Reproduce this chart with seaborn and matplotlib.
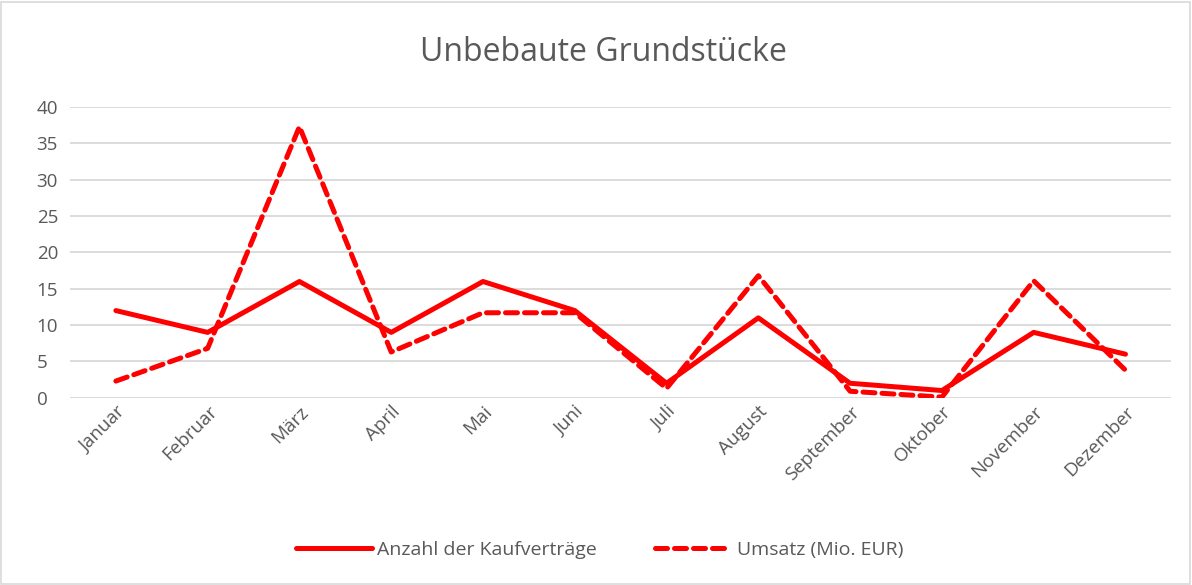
import pandas as pd
import matplotlib.pyplot as plt
import seaborn as sns
from matplotlib.patches import Rectangle
from matplotlib.lines import Line2D

# values
monate = ['Januar', 'Februar', 'März', 'April', 'Mai', 'Juni', 'Juli',
          'August', 'September', 'Oktober', 'November', 'Dezember']
anzahl = [12, 9, 16, 9, 16, 12, 2, 11, 2, 1, 9, 6]
umsatz = [2.3, 6.8, 37.3, 6.3, 11.7, 11.7, 1.3, 16.8, 0.9, 0.1, 16.1, 3.8]
serien = ['Anzahl der Kaufverträge', 'Umsatz (Mio. EUR)']

df = pd.DataFrame({'Monat': monate, serien[0]: anzahl, serien[1]: umsatz})
long_df = df.melt(id_vars='Monat', var_name='Serie', value_name='Wert')

sns.set_style('white')
plt.rcParams['font.family'] = ['Open Sans', 'DejaVu Sans']
grau = '#595959'
rot = '#FF0000'
strich = (2.4, 1.4)

fig = plt.figure(figsize=(11.92, 5.85), dpi=100)
ax = fig.add_axes([0.0587, 0.32, 0.924, 0.497])

sns.lineplot(data=long_df, x='Monat', y='Wert', hue='Serie', style='Serie',
             palette={serien[0]: rot, serien[1]: rot},
             dashes={serien[0]: '', serien[1]: strich},
             linewidth=3.6, sort=False, ax=ax, legend=False)
for line in ax.get_lines():
    line.set_solid_capstyle('round')
    line.set_dash_capstyle('round')

ax.set_ylim(0, 40)
ax.set_yticks(range(0, 41, 5))
ax.set_xlim(-0.5, len(monate) - 0.5)
ax.yaxis.grid(True, color='#D9D9D9', linewidth=1.3)
ax.set_axisbelow(True)
for s in ax.spines.values():
    s.set_visible(False)
ax.set_xlabel('')
ax.set_ylabel('')
ax.tick_params(axis='both', length=0, colors=grau, labelsize=13.5)
ax.tick_params(axis='y', pad=24)
for lab in ax.get_yticklabels():
    lab.set_horizontalalignment('left')
plt.setp(ax.get_xticklabels(), rotation=45, ha='right', rotation_mode='anchor')

fig.text(0.506, 0.91, 'Unbebaute Grundstücke', ha='center', va='center',
         fontsize=23, color=grau)

# legend
handles = [Line2D([], [], color=rot, lw=3.6, solid_capstyle='round'),
           Line2D([], [], color=rot, lw=3.6, dashes=strich, dash_capstyle='round')]
fig.legend(handles, serien, loc='center', bbox_to_anchor=(0.503, 0.06), ncol=2,
           frameon=False, fontsize=14, labelcolor=grau, handlelength=3.9,
           columnspacing=3.0, handletextpad=0.3)

fig.add_artist(Rectangle((0.001, 0.002), 0.997, 0.995, transform=fig.transFigure,
                         fill=False, edgecolor='#D9D9D9', linewidth=1.2))

fig.savefig('out.png', dpi=100)
